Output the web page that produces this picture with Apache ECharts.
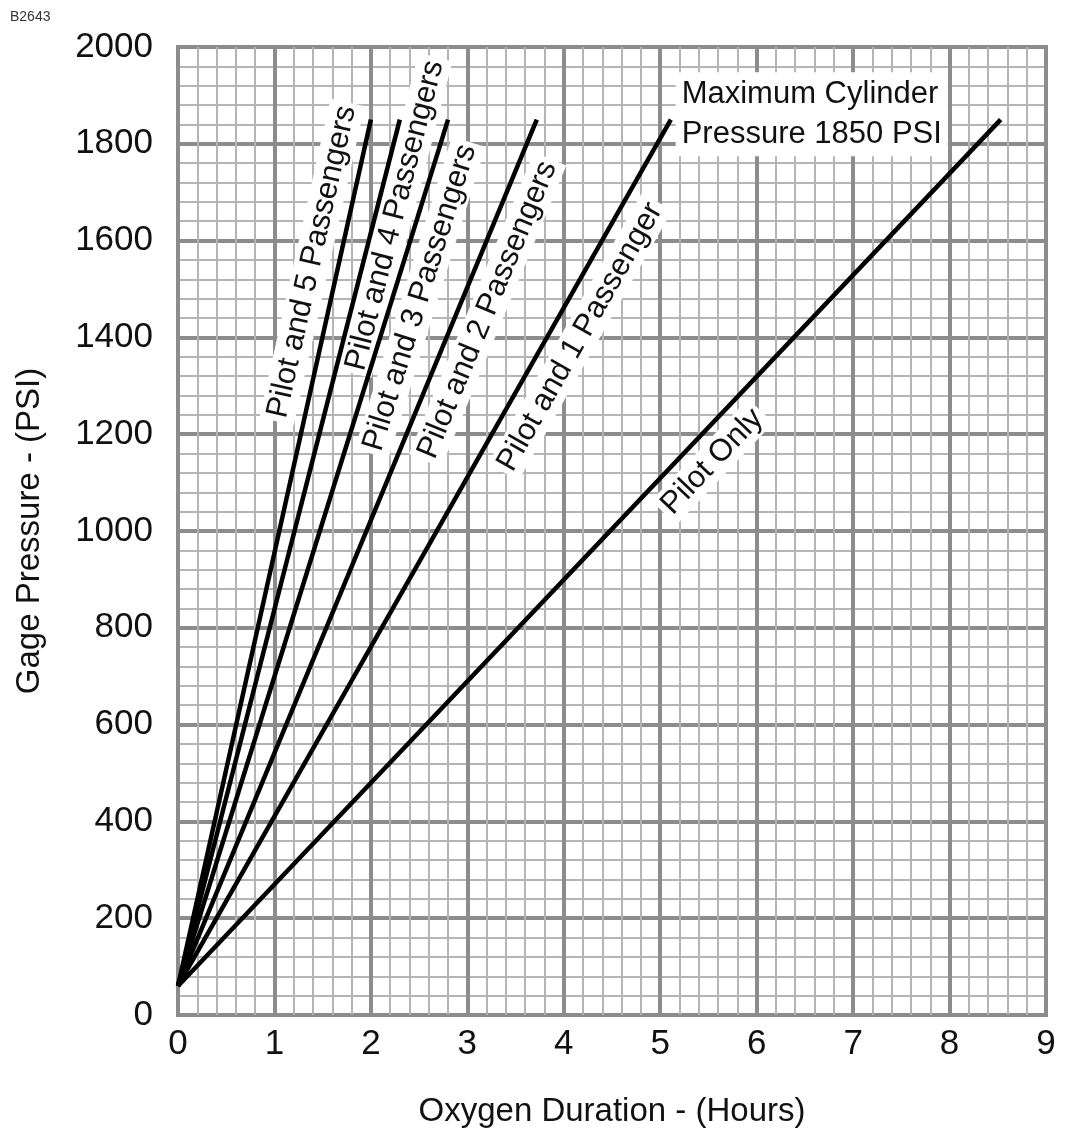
<!DOCTYPE html>
<html>
<head>
<meta charset="utf-8">
<script src="https://cdn.jsdelivr.net/npm/echarts@6/dist/echarts.min.js"></script>
<style>
  html, body { margin: 0; padding: 0; background: #fff; }
  #main { width: 1066px; height: 1133px; }
</style>
</head>
<body>
<div id="main"></div>
<script>
// 每条线: 从 (0, startPsi) 到 (hours, maxPsi)
var seriesNames = ["Pilot and 5 Passengers", "Pilot and 4 Passengers", "Pilot and 3 Passengers",
  "Pilot and 2 Passengers", "Pilot and 1 Passenger", "Pilot Only"];
var endHours = [2.0, 2.3, 2.8, 3.72, 5.11, 8.53];
var startPsi = 60;
var maxPsi = 1850;

// 文字标签的中心位置 (数据坐标)
var labelHours = [1.39, 2.25, 2.51, 3.21, 4.17, 5.54];
var labelPsi = [1556, 1652, 1482, 1457, 1401, 1143];

var noteText = "Maximum Cylinder\nPressure 1850 PSI";
var noteHours = 5.16;
var notePsi = 1948;

var FONT = "Liberation Sans, Arial, Helvetica, sans-serif";
var myChart = echarts.init(document.getElementById("main"));

var series = seriesNames.map(function (name, i) {
  return {
    name: name,
    type: "line",
    symbol: "none",
    silent: true,
    z: 3,
    lineStyle: { color: "#000", width: 4.5 },
    data: [[0, startPsi], [endHours[i], maxPsi]]
  };
});

var option = {
  animation: false,
  backgroundColor: "#fff",
  grid: {
    left: 178, right: 20, top: 47, bottom: 117,
    show: true, borderColor: "#8c8c8c", borderWidth: 4
  },
  xAxis: {
    type: "value", min: 0, max: 9, interval: 1,
    name: "Oxygen Duration - (Hours)",
    nameLocation: "middle", nameGap: 80,
    nameTextStyle: { fontFamily: FONT, fontSize: 33, color: "#111" },
    axisLine: { show: false },
    axisTick: { show: false },
    axisLabel: { fontFamily: FONT, fontSize: 35, color: "#111", margin: 12 },
    splitLine: { show: true, lineStyle: { color: "#8c8c8c", width: 4 } },
    minorTick: { show: false, splitNumber: 5 },
    minorSplitLine: { show: true, lineStyle: { color: "#b4b4b4", width: 2 } }
  },
  yAxis: {
    type: "value", min: 0, max: 2000, interval: 200,
    name: "Gage Pressure - (PSI)",
    nameLocation: "middle", nameGap: 132,
    nameTextStyle: { fontFamily: FONT, fontSize: 33, color: "#111" },
    axisLine: { show: false },
    axisTick: { show: false },
    axisLabel: {
      fontFamily: FONT, fontSize: 35, color: "#111", margin: 25,
      formatter: function (v) { return String(v); }
    },
    splitLine: { show: true, lineStyle: { color: "#8c8c8c", width: 4 } },
    minorTick: { show: false, splitNumber: 5 },
    minorSplitLine: { show: true, lineStyle: { color: "#b4b4b4", width: 2 } }
  },
  series: series
};

myChart.setOption(option);

// 标签: 按线的像素斜率旋转
var graphics = [{
  type: "text", left: 10, top: 10, z: 10,
  style: { text: "B2643", font: "14px " + FONT, fill: "#333" }
}];
seriesNames.forEach(function (name, i) {
  var p0 = myChart.convertToPixel({ gridIndex: 0 }, [0, startPsi]);
  var p1 = myChart.convertToPixel({ gridIndex: 0 }, [endHours[i], maxPsi]);
  var ang = Math.atan2(p0[1] - p1[1], p1[0] - p0[0]);
  var c = myChart.convertToPixel({ gridIndex: 0 }, [labelHours[i], labelPsi[i]]);
  graphics.push({
    type: "text", x: c[0], y: c[1], rotation: ang, z: 1,
    style: {
      text: name, font: "31px " + FONT, fill: "#111",
      align: "center", verticalAlign: "middle",
      backgroundColor: "#fff", padding: [2, 4]
    }
  });
});
var n = myChart.convertToPixel({ gridIndex: 0 }, [noteHours, notePsi]);
graphics.push({
  type: "text", x: n[0], y: n[1], z: 1,
  style: {
    text: noteText, font: "31px " + FONT, fill: "#111", lineHeight: 40,
    align: "left", verticalAlign: "top",
    backgroundColor: "#fff", padding: [2, 6]
  }
});
myChart.setOption({ graphic: graphics });
</script>
</body>
</html>
